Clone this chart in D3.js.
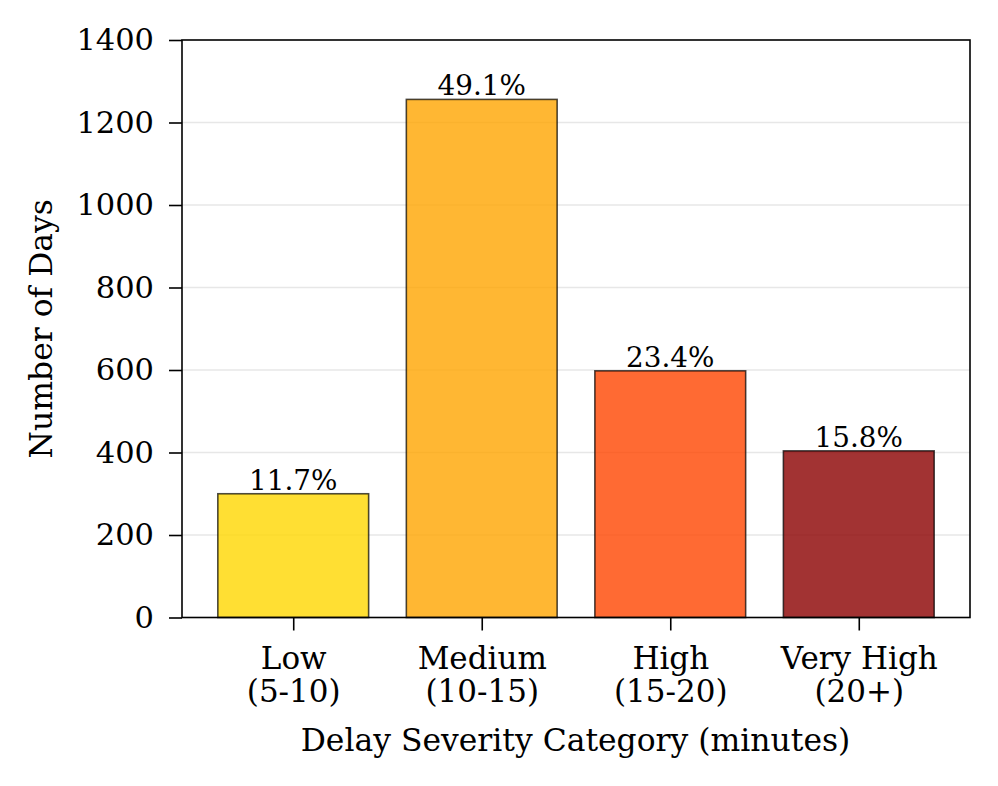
<!DOCTYPE html>
<html>
<head>
<meta charset="utf-8">
<script src="https://cdn.jsdelivr.net/npm/d3@7"></script>
<style>
  html, body { margin: 0; padding: 0; background: #fff; }
  svg { display: block; font-family: "DejaVu Serif", serif; }
</style>
</head>
<body>
<svg id="chart" width="998" height="786"></svg>
<script>
const categories = ["Low\n(5-10)", "Medium\n(10-15)", "High\n(15-20)", "Very High\n(20+)"];
const counts = [300, 1256, 598, 404];
const colors = ["#FFD700", "#FFA500", "#FF4500", "#8B0000"];
const yTicks = [0, 200, 400, 600, 800, 1000, 1200, 1400];

(function () {
const svg = d3.select("#chart");
const mL = 182, mR = 970, mT = 40, mB = 617.5;

const total = d3.sum(counts);
const idx = d3.range(categories.length);

const x = d3.scaleLinear().domain([-0.59, categories.length - 1 + 0.59]).range([mL, mR]);
const y = d3.scaleLinear().domain([0, 1400]).range([mB, mT]);
const bw = 0.8;

// grid
svg.append("g").selectAll("line").data(yTicks.slice(1, -1)).join("line")
  .attr("x1", mL).attr("x2", mR)
  .attr("y1", d => y(d)).attr("y2", d => y(d))
  .attr("stroke", "#b0b0b0").attr("stroke-opacity", 0.3).attr("stroke-width", 1.6);

// bars
svg.append("g").selectAll("rect").data(idx).join("rect")
  .attr("x", i => x(i - bw / 2))
  .attr("width", i => x(i + bw / 2) - x(i - bw / 2))
  .attr("y", i => y(counts[i]))
  .attr("height", i => y(0) - y(counts[i]))
  .attr("fill", i => colors[i]).attr("fill-opacity", 0.8)
  .attr("stroke", "#000").attr("stroke-opacity", 0.7).attr("stroke-width", 1.6);

// percent labels
svg.append("g").selectAll("text").data(idx).join("text")
  .attr("x", i => x(i)).attr("y", i => y(counts[i]) - 4)
  .attr("text-anchor", "middle").attr("font-size", 27.8).attr("fill", "#000")
  .text(i => (counts[i] / total * 100).toFixed(1) + "%");

// y axis
const yAxis = d3.axisLeft(y).tickValues(yTicks).tickSize(13).tickPadding(15).tickFormat(d3.format("d"));
const gy = svg.append("g").attr("transform", `translate(${mL},0)`).call(yAxis);
gy.select(".domain").remove();
gy.selectAll(".tick line").attr("stroke", "#000").attr("stroke-width", 1.6);
gy.selectAll(".tick text").attr("font-size", 30.5).attr("font-family", "DejaVu Serif").attr("fill", "#000");

// x axis
const xAxis = d3.axisBottom(x).tickValues(idx).tickSize(13).tickFormat(() => "");
const gx = svg.append("g").attr("transform", `translate(0,${mB})`).call(xAxis);
gx.select(".domain").remove();
gx.selectAll(".tick line").attr("stroke", "#000").attr("stroke-width", 1.6);
gx.selectAll(".tick").each(function(i) {
  const lines = categories[i].split("\n");
  const t = d3.select(this).append("text").attr("text-anchor", "middle")
    .attr("font-size", 31).attr("font-family", "DejaVu Serif").attr("fill", "#000");
  lines.forEach((ln, k) => t.append("tspan").attr("x", 0).attr("y", 51 + k * 33).text(ln));
});

// frame
svg.append("rect").attr("x", mL).attr("y", mT).attr("width", mR - mL).attr("height", mB - mT)
  .attr("fill", "none").attr("stroke", "#000").attr("stroke-width", 1.6);

// axis labels
svg.append("text").attr("x", (mL + mR) / 2 - 0.5).attr("y", 751)
  .attr("text-anchor", "middle").attr("font-size", 31.4).attr("fill", "#000")
  .text("Delay Severity Category (minutes)");
svg.append("text").attr("transform", `translate(52,${(mT + mB) / 2}) rotate(-90)`)
  .attr("text-anchor", "middle").attr("font-size", 31.4).attr("fill", "#000")
  .text("Number of Days");
})();
</script>
</body>
</html>
